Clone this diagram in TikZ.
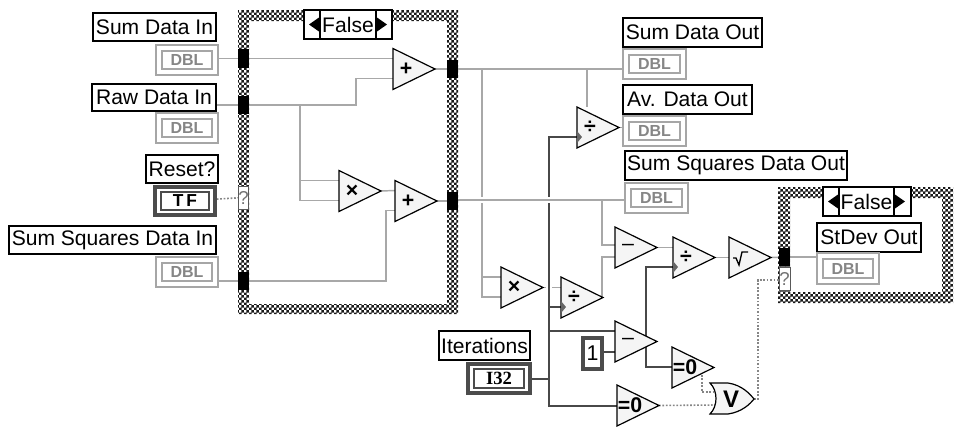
\documentclass[tikz,border=0pt]{standalone}
\usepackage{fontspec}
\setmainfont{Liberation Sans}
\newfontfamily\tagfont{Liberation Sans}
\newfontfamily\slabfont{Liberation Serif}
\usetikzlibrary{patterns}
\pgfdeclarelayer{wires}
\pgfsetlayers{wires,main}
\definecolor{wiregray}{HTML}{A8A8A8}
\definecolor{wiredark}{HTML}{484848}
\definecolor{tagbord}{HTML}{A6A6A6}
\pgfdeclarepatternformonly{vicheck}{\pgfqpoint{0pt}{0pt}}{\pgfqpoint{4pt}{4pt}}{\pgfqpoint{4pt}{4pt}}{%
  \pgfpathrectangle{\pgfqpoint{0pt}{0pt}}{\pgfqpoint{2.1pt}{2.1pt}}%
  \pgfpathrectangle{\pgfqpoint{2pt}{2pt}}{\pgfqpoint{2.1pt}{2.1pt}}%
  \pgfusepath{fill}}
\tikzset{
  lab/.style={draw=black,line width=1.1pt,fill=white,inner sep=0pt,font=\fontsize{15.8}{15.8}\selectfont},
  tagouter/.style={draw=tagbord,line width=2pt,fill=white,inner sep=0pt},
  taginner/.style={draw=tagbord,line width=1pt,fill=white,inner sep=0pt,text=gray!95!white,font=\tagfont\bfseries\fontsize{12}{12}\selectfont},
  darkouter/.style={draw=black!70,line width=2.6pt,fill=white,inner sep=0pt},
  darkinner/.style={draw=black!70,line width=1.1pt,fill=white,inner sep=0pt,font=\bfseries\fontsize{13}{13}\selectfont},
  tunnel/.style={fill=black,inner sep=0pt},
  seltun/.style={draw=black!65,line width=.5pt,fill=white,inner sep=0pt,text=black!55,font=\fontsize{14}{14}\selectfont},
  gatebody/.style={draw=black,line width=.9pt,fill=black!4,line join=miter},
  gatelab/.style={inner sep=0pt,font=\bfseries\fontsize{16}{16}\selectfont},
  gwire/.style={draw=wiregray,line width=1.1pt},
  dwire/.style={draw=wiredark,line width=1.5pt},
  bwire/.style={draw=wiregray!80!black,line width=1.2pt,dash pattern=on 1.3pt off 1.3pt,line cap=butt},
  halo/.style={draw=white,line width=4.5pt},
  notch/.style={fill=black!60},
  selbox/.style={draw=black,line width=.9pt,fill=white,inner sep=0pt,font=\fontsize{15.8}{15.8}\selectfont},
  frame/.style={pattern=vicheck,pattern color=black!90,even odd rule}
}
% style, name, x1, y1, x2, y2, text
\newcommand\bx[7]{\node[#1,minimum width={((#5)-(#3))*0.75pt},minimum height={((#6)-(#4))*0.75pt}] (#2) at ({((#3)+(#5))/2},{((#4)+(#6))/2}) {#7};}
% name, x1, y1, x2, y2 : a DBL terminal
\newcommand\dbltag[5]{\bx{tagouter}{#1}{#2}{#3}{#4}{#5}{}\bx{taginner}{#1-in}{#2+6}{#3+6}{#4-6}{#5-6}{DBL}}
% name, left, top, label : a triangular function
\newcommand\gate[4]{%
  \draw[gatebody] (#2,#3) -- (#2+42,#3+20.5) -- (#2,#3+41) -- cycle;
  \node[gatelab] (#1) at (#2+13,#3+20.5) {#4};
  \coordinate (#1-o) at (#2+42,#3+20.5);
  \coordinate (#1-a) at (#2,#3+10);
  \coordinate (#1-b) at (#2,#3+30);}
% a selector: name, x1, x2, x3, x4, y1, y2
\newcommand\selector[7]{%
  \bx{selbox}{#1-l}{#2}{#6}{#3}{#7}{}
  \bx{selbox}{#1-r}{#4}{#6}{#5}{#7}{}
  \bx{selbox}{#1}{#3}{#6}{#4}{#7}{False}
  \fill ({#3-1},{(#6+#7)/2-7}) -- ({#3-1},{(#6+#7)/2+7}) -- ({#3-11},{(#6+#7)/2}) -- cycle;
  \fill ({#4+1},{(#6+#7)/2-7}) -- ({#4+1},{(#6+#7)/2+7}) -- ({#4+11},{(#6+#7)/2}) -- cycle;}
\begin{document}
\begin{tikzpicture}[x=0.75pt,y=-0.75pt]
\useasboundingbox (0,0) rectangle (954,426);
% case frames
\fill[frame] (238,10) rectangle (458,314) (249,21) rectangle (447,304);
\fill[frame] (778,187) rectangle (953,303) (790,198) rectangle (942,292);
\selector{sel1}{304}{320}{376}{392}{10}{39}
\selector{sel2}{823}{839}{894}{911}{187}{216}
% terminals
\bx{lab}{lSumIn}{93}{13}{216}{41}{Sum Data In}
\dbltag{tSumIn}{156}{45}{218}{75}
\bx{lab}{lRawIn}{92}{84}{216}{111}{Raw Data In}
\dbltag{tRawIn}{156}{113}{218}{143}
\bx{lab}{lReset}{146}{155}{218}{183}{Reset?}
\bx{darkouter}{tTF}{155}{187}{215}{215}{}
\bx{darkinner}{tTF-in}{161}{192}{209}{210}{T\,F}
\bx{lab}{lSqIn}{9}{226}{216}{254}{Sum Squares Data In}
\dbltag{tSqIn}{156}{257}{218}{287}
\bx{lab}{lSumOut}{623}{18}{762}{47}{Sum Data Out}
\dbltag{tSumOut}{623}{49}{686}{79}
\bx{lab}{lAvOut}{623}{85}{752}{114}{Av. Data Out}
\dbltag{tAvOut}{623}{116}{686}{146}
\bx{lab}{lSqOut}{625}{151}{847}{180}{Sum Squares Data Out}
\dbltag{tSqOut}{625}{183}{688}{213}
\bx{lab}{lStd}{817}{223}{921}{252}{StDev Out}
\dbltag{tStd}{817}{253}{879}{284}
\bx{lab}{lIter}{439}{331}{530}{360}{Iterations}
\bx{darkouter}{tIter}{468}{364}{530}{393}{}
\bx{darkinner}{tIter-in}{474}{369}{524}{388}{\slabfont\fontsize{14}{14}\selectfont I32}
\bx{darkouter}{kOne}{583}{338}{602}{369}{}
\node[inner sep=0pt,font=\fontsize{16}{16}\selectfont] (kOneT) at (kOne) {1};
% tunnels
\bx{tunnel}{a1}{238}{49}{249}{68}{}
\bx{tunnel}{a2}{238}{96}{249}{114}{}
\bx{seltun}{a3}{239}{186}{248}{209}{?}
\bx{tunnel}{a4}{238}{272}{249}{290}{}
\bx{tunnel}{b1}{447}{60}{458}{78}{}
\bx{tunnel}{b2}{447}{192}{458}{210}{}
\bx{tunnel}{c1}{779}{248}{790}{266}{}
\bx{seltun}{c2}{779}{267}{790}{290}{?}
% functions
\gate{add1}{393}{48.5}{+}
\gate{mul1}{339}{170.5}{×}
\gate{add2}{395}{180.5}{+}
\gate{divA}{577}{107}{÷}
\gate{mul2}{501}{267}{×}
\gate{divB}{561}{277}{÷}
\gate{sub1}{615}{227}{\mdseries --}
\gate{divC}{673}{237}{÷}
\gate{root}{729}{237}{}
\draw[line width=1pt,line join=miter] (733,258) -- (736,258) -- (739,265) -- (742,252) -- (748,252);
\gate{sub2}{615}{321}{\mdseries --}
\gate{eq1}{672}{347}{=0}
\gate{eq2}{617}{385}{=0}
\fill[notch] (577,131) -- (582,137) -- (577,143) -- cycle;
\fill[notch] (561,301) -- (566,307) -- (561,313) -- cycle;
\fill[notch] (673,261) -- (678,267) -- (673,273) -- cycle;
% or gate
\draw[gatebody] (710,383) -- (728,383) .. controls (742,385) and (750,394) .. (754,399)
   .. controls (750,404) and (742,412) .. (728,414) -- (710,414) .. controls (718,406) and (718,391) .. (710,383) -- cycle;
\node[gatelab,font=\bfseries\fontsize{18}{18}\selectfont] (orG) at (731,399) {V};
\coordinate (orG-o) at (754,399);
\coordinate (orG-a) at (717,392);
\coordinate (orG-b) at (716,405);
\begin{pgfonlayer}{wires}
% upper case
\draw[gwire] (tSumIn.east |- a1) -- (a1);
\draw[gwire] (a1) -- (add1-a);
\draw[gwire] (lRawIn.east |- a2) -- (a2);
\draw[gwire] (a2) -| (356,78.5) -- (add1-b);
\draw[gwire] (300,105) |- (mul1-b);
\draw[gwire] (300,180.5) -- (mul1-a);
\draw[gwire] (mul1-o) -- (add2-a);
\draw[gwire] (tSqIn.east |- a4) -- (a4);
\draw[gwire] (a4) -| (386,210.5) -- (add2-b);
\draw[gwire] (add1-o) -- (447,69);
\draw[gwire] (add2-o) -- (447,201);
\draw[bwire] (tTF) -- (a3);
% right of the case
\draw[gwire] (b1.east |- 0,69) -- (tSumOut.west |- 0,69);
\draw[gwire] (587,69) -- (587,107);
\draw[gwire] (482,69) |- (mul2-a);
\draw[gwire] (482,277) |- (mul2-b);
\draw[gwire] (mul2-o) -- (561,287.5);
\draw[halo] (549,283) -- (549,292);
\draw[dwire] (tIter.east) -| (549,137) -- (577,137);
\draw[dwire] (549,307) -- (561,307);
\draw[dwire] (549,331) -- (615,331);
\draw[dwire] (549,379) |- (eq2-o -| eq2-a);
\draw[halo] (470,200) -- (560,200);
\draw[gwire] (b2.east |- 0,200) -- (tSqOut.west |- 0,200);
\draw[gwire] (602,200) |- (615,245);
\draw[gwire] (divB-o) -- (602,297.5) |- (615,257);
\draw[gwire] (sub1-o) -- (673,247.5);
\draw[gwire] (divC-o) -- (root-a |- divC-o);
\draw[gwire] (root-o) -- (c1);
\draw[gwire] (c1) -- (tStd.west |- c1);
\draw[gwire] (divA-o) -- (tAvOut.west |- divA-o);
\draw[dwire] (kOne.east |- 0,352) -- (615,352);
\draw[dwire] (646,342) |- (673,267);
\draw[dwire] (646,342) |- (672,367);
\draw[bwire] (702,375) |- (orG-a);
\draw[bwire] (eq2-o) -- (orG-b);
\draw[bwire] (orG-o) -| (758,280) -- (c2.west |- 0,280);
\end{pgfonlayer}
\end{tikzpicture}
\end{document}
